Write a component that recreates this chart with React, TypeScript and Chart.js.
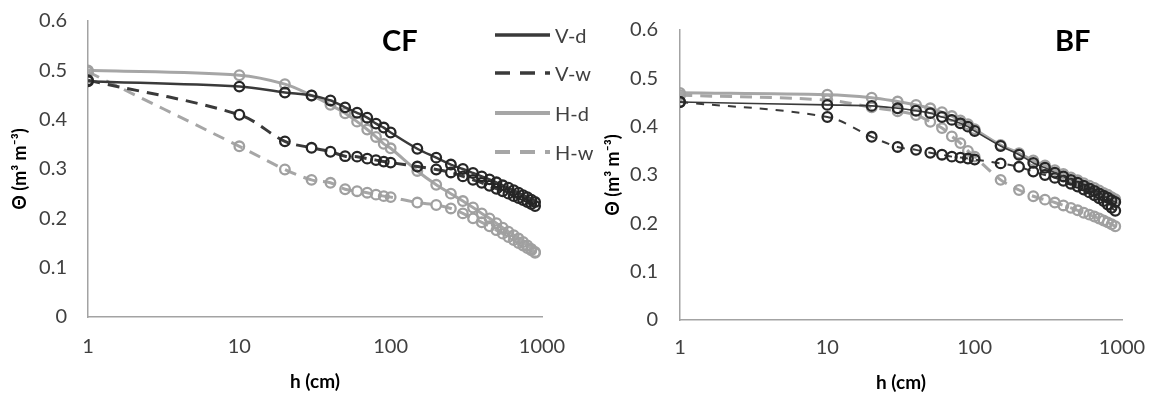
import React, { useEffect, useRef } from 'react';
import { Chart, registerables } from 'chart.js';

Chart.register(...registerables);

// suction head h (cm)
const hValues = [1, 10, 20, 30, 40, 50, 60, 70, 80, 90, 100, 150, 200, 250, 300, 350, 400, 450, 500, 550, 600, 650, 700, 750, 800, 850, 900];

const seriesNames = ['V-d', 'V-w', 'H-d', 'H-w'];

// CF panel
const cfVd = [0.478, 0.467, 0.455, 0.449, 0.439, 0.425, 0.414, 0.404, 0.392, 0.384, 0.374, 0.341, 0.323, 0.309, 0.300, 0.292, 0.285, 0.279, 0.273, 0.267, 0.262, 0.257, 0.252, 0.247, 0.243, 0.238, 0.233];
const cfVw = [0.480, 0.410, 0.356, 0.343, 0.335, 0.326, 0.325, 0.321, 0.318, 0.315, 0.313, 0.305, 0.299, 0.293, 0.285, 0.278, 0.272, 0.266, 0.260, 0.255, 0.250, 0.245, 0.241, 0.237, 0.233, 0.229, 0.225];
const cfHd = [0.500, 0.490, 0.472, 0.449, 0.430, 0.413, 0.396, 0.380, 0.365, 0.351, 0.342, 0.296, 0.268, 0.250, 0.235, 0.222, 0.210, 0.200, 0.190, 0.181, 0.173, 0.166, 0.159, 0.152, 0.145, 0.138, 0.132];
const cfHw = [0.497, 0.346, 0.299, 0.278, 0.272, 0.259, 0.255, 0.252, 0.248, 0.245, 0.243, 0.232, 0.227, 0.220, 0.210, 0.200, 0.192, 0.184, 0.176, 0.169, 0.162, 0.156, 0.150, 0.145, 0.140, 0.135, 0.130];

// BF panel
const bfVd = [0.451, 0.445, 0.443, 0.438, 0.433, 0.428, 0.420, 0.414, 0.407, 0.400, 0.391, 0.360, 0.342, 0.325, 0.315, 0.305, 0.297, 0.290, 0.284, 0.278, 0.272, 0.267, 0.262, 0.257, 0.253, 0.248, 0.244];
const bfVw = [0.451, 0.420, 0.379, 0.358, 0.352, 0.346, 0.342, 0.338, 0.336, 0.334, 0.332, 0.324, 0.317, 0.307, 0.300, 0.294, 0.288, 0.282, 0.276, 0.270, 0.264, 0.258, 0.252, 0.246, 0.239, 0.232, 0.226];
const bfHd = [0.470, 0.466, 0.460, 0.452, 0.445, 0.438, 0.430, 0.422, 0.413, 0.405, 0.395, 0.362, 0.345, 0.330, 0.320, 0.310, 0.302, 0.295, 0.289, 0.283, 0.278, 0.273, 0.268, 0.263, 0.259, 0.254, 0.250];
const bfHw = [0.465, 0.455, 0.440, 0.432, 0.424, 0.410, 0.397, 0.380, 0.366, 0.350, 0.338, 0.290, 0.269, 0.256, 0.249, 0.243, 0.237, 0.232, 0.227, 0.222, 0.218, 0.214, 0.210, 0.206, 0.202, 0.198, 0.194];

const xTickValues = [1, 10, 100, 1000];
const yMin = 0;
const yMax = 0.6;
const yStep = 0.1;

const xTitle = 'h (cm)';
const yTitle = 'Θ (m³ m⁻³)';

const DARK = '#3a3a3a';
const DARK_MK = '#262626';
const LIGHT = '#a6a6a6';
const LIGHT_MK = '#a0a0a0';
const TEXT = '#404040';
const AXIS = '#a3a3a3';
const FONT = 'Lato, "Open Sans", sans-serif';

type LineStyle = { color: string; marker: string; width: number; dash: number[] };

const cfStyles: LineStyle[] = [
  { color: DARK, marker: DARK_MK, width: 2.5, dash: [] },
  { color: DARK, marker: DARK_MK, width: 3, dash: [12, 8] },
  { color: LIGHT, marker: LIGHT_MK, width: 3, dash: [] },
  { color: LIGHT, marker: LIGHT_MK, width: 3, dash: [12, 8] },
];
const bfStyles: LineStyle[] = [
  { color: DARK, marker: DARK_MK, width: 1.6, dash: [] },
  { color: DARK, marker: DARK_MK, width: 2, dash: [8, 8] },
  { color: LIGHT, marker: LIGHT_MK, width: 3, dash: [] },
  { color: LIGHT, marker: LIGHT_MK, width: 3, dash: [12, 8] },
];

type Geom = {
  left: number; // canvas left on page
  yw: number; // y axis box width
  top: number;
  right: number;
  xh: number; // x axis box height
  yTickPad: number;
  yTitlePad: number;
  xTickPad: number;
  xTitlePad: number;
};

function zeroPad(s: any) {
  s.paddingLeft = 0;
  s.paddingRight = 0;
  s.paddingTop = 0;
  s.paddingBottom = 0;
}

function Panel({ series, styles, geom }: { series: number[][]; styles: LineStyle[]; geom: Geom }) {
  const ref = useRef<HTMLCanvasElement>(null);
  useEffect(() => {
    if (!ref.current) return;
    const chart = new Chart(ref.current, {
      type: 'line',
      data: {
        datasets: series.map((vals, i) => ({
          label: seriesNames[i],
          data: hValues.map((h, j) => ({ x: h, y: vals[j] })),
          borderColor: styles[i].color,
          borderWidth: styles[i].width,
          borderDash: styles[i].dash,
          pointRadius: 4.8,
          pointBorderWidth: 2.3,
          pointBorderColor: styles[i].marker,
          pointBackgroundColor: 'rgba(255,255,255,0)',
          pointStyle: 'circle',
          tension: 0.35,
          fill: false,
        })),
      },
      options: {
        animation: false,
        responsive: false,
        maintainAspectRatio: false,
        layout: { padding: { left: 0, top: geom.top, right: geom.right, bottom: 0 } },
        plugins: { legend: { display: false }, tooltip: { enabled: false }, title: { display: false } },
        scales: {
          x: {
            type: 'logarithmic',
            min: xTickValues[0],
            max: xTickValues[xTickValues.length - 1],
            grid: { display: false, drawTicks: false },
            border: { display: true, color: AXIS, width: 1.5 },
            afterBuildTicks: (s: any) => {
              s.ticks = xTickValues.map((v) => ({ value: v }));
            },
            afterFit: (s: any) => {
              s.height = geom.xh;
              zeroPad(s);
            },
            ticks: {
              padding: geom.xTickPad,
              color: TEXT,
              font: { family: FONT, size: 20 },
              maxRotation: 0,
              autoSkip: false,
              callback: (v: any) => String(v),
            },
            title: {
              display: true,
              text: xTitle,
              color: '#000',
              font: { family: FONT, size: 19, weight: 'bold' },
              padding: { top: 0, bottom: geom.xTitlePad },
            },
          },
          y: {
            type: 'linear',
            min: yMin,
            max: yMax,
            grid: { display: false, drawTicks: false },
            border: { display: true, color: AXIS, width: 1.5 },
            afterFit: (s: any) => {
              s.width = geom.yw;
              zeroPad(s);
            },
            ticks: {
              stepSize: yStep,
              padding: geom.yTickPad,
              color: TEXT,
              font: { family: FONT, size: 20 },
              callback: (v: any) => String(Math.round(Number(v) * 10) / 10),
            },
            title: {
              display: true,
              text: yTitle,
              color: '#000',
              font: { family: FONT, size: 18, weight: 'bold' },
              padding: { top: geom.yTitlePad, bottom: 0 },
            },
          },
        },
      },
    } as any);
    return () => chart.destroy();
  }, []);
  return (
    <canvas
      ref={ref}
      width={575}
      height={394}
      style={{ position: 'absolute', left: geom.left, top: 0, width: 575, height: 394 }}
    />
  );
}

function LegendItem({ y, label, color, width, dash }: { y: number; label: string; color: string; width: number; dash?: string }) {
  return (
    <>
      <svg
        width={60}
        height={12}
        style={{ position: 'absolute', left: 495, top: y - 6 }}
      >
        <line x1={0} y1={6} x2={55} y2={6} stroke={color} strokeWidth={width} strokeDasharray={dash} />
      </svg>
      <div
        style={{
          position: 'absolute',
          left: 555,
          top: y - 10.5,
          fontFamily: FONT,
          fontSize: 20,
          lineHeight: '20px',
          color: TEXT,
          whiteSpace: 'nowrap',
        }}
      >
        {label}
      </div>
    </>
  );
}

const titleStyle: React.CSSProperties = {
  position: 'absolute',
  fontFamily: FONT,
  fontWeight: 'bold',
  fontSize: 29,
  lineHeight: '29px',
  color: '#000',
  whiteSpace: 'nowrap',
};

export default function App() {
  const cfGeom: Geom = { left: 0, yw: 88, top: 21, right: 33, xh: 77, yTickPad: 21, yTitlePad: 9, xTickPad: 18, xTitlePad: 1 };
  const bfGeom: Geom = { left: 575, yw: 105, top: 30, right: 28, xh: 74, yTickPad: 22, yTitlePad: 27, xTickPad: 16, xTitlePad: 0 };
  return (
    <div style={{ position: 'fixed', left: 0, top: 0, width: 1150, height: 394, background: '#fff', overflow: 'hidden' }}>
      <Panel series={[cfVd, cfVw, cfHd, cfHw]} styles={cfStyles} geom={cfGeom} />
      <Panel series={[bfVd, bfVw, bfHd, bfHw]} styles={bfStyles} geom={bfGeom} />
      <div style={{ ...titleStyle, left: 382, top: 25 }}>CF</div>
      <div style={{ ...titleStyle, left: 1055, top: 25 }}>BF</div>
      <LegendItem y={35} label={seriesNames[0]} color={DARK} width={3.5} />
      <LegendItem y={73} label={seriesNames[1]} color={DARK} width={3.5} dash="15 10" />
      <LegendItem y={113} label={seriesNames[2]} color={LIGHT} width={4} />
      <LegendItem y={152} label={seriesNames[3]} color={LIGHT} width={4} dash="15 10" />
    </div>
  );
}
